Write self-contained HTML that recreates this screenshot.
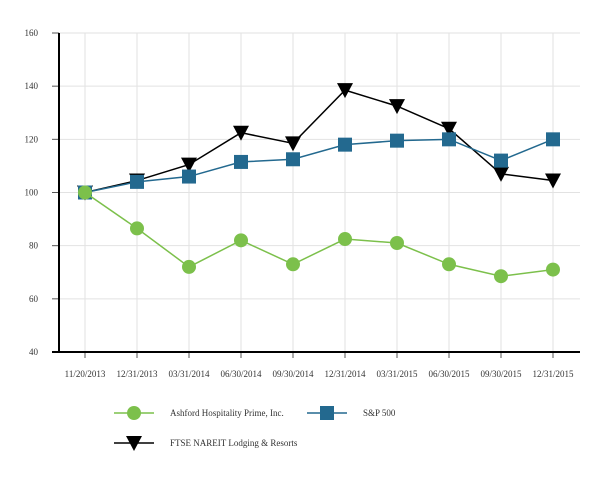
<!DOCTYPE html>
<html><head><meta charset="utf-8"><style>
body{margin:0;background:#fff;}
svg text{font-family:"Liberation Serif",serif;font-size:9px;fill:#333;}
</style></head><body>
<svg width="613" height="480" id="c"></svg>
<script>
const categories=["11/20/2013","12/31/2013","03/31/2014","06/30/2014","09/30/2014","12/31/2014","03/31/2015","06/30/2015","09/30/2015","12/31/2015"];
const ashford=[100,86.5,72,82,73,82.5,81,73,68.5,71];
const sp500=[100,104,106,111.5,112.5,118,119.5,120,112,120];
const ftse=[100,104.5,110.5,122.5,118.5,138.5,132.5,124,107,104.5];
const yTicks=[40,60,80,100,120,140,160];
const svg=document.getElementById('c');const NS='http://www.w3.org/2000/svg';
function el(t,a,p){const e=document.createElementNS(NS,t);for(const k in a)e.setAttribute(k,a[k]);(p||svg).appendChild(e);return e;}
const x=i=>85+i*52, y=v=>352-(v-40)*319/120;
yTicks.forEach(v=>{const g=el('line',{x1:59,x2:580,y1:y(v),y2:y(v),stroke:'#e2e2e2'});

el('line',{x1:52,x2:59,y1:y(v),y2:y(v),stroke:'#555'});
const t=el('text',{x:38,y:y(v)+3,'text-anchor':'end'});t.textContent=v;
});
categories.forEach((c,i)=>{const g=el('line',{x1:x(i),x2:x(i),y1:33,y2:352,stroke:'#e2e2e2'});

el('line',{x1:x(i),x2:x(i),y1:352,y2:358,stroke:'#555'});
const t=el('text',{x:x(i),y:377,'text-anchor':'middle'});t.textContent=c;
});
el('line',{x1:59,x2:59,y1:33,y2:352,stroke:'#000','stroke-width':2});
el('line',{x1:52,x2:580,y1:352,y2:352,stroke:'#000','stroke-width':2});
function marker(kind,cx,cy,col,g){
 if(kind==='c')return el('circle',{cx,cy,r:7,fill:col},g);
 if(kind==='s')return el('rect',{x:cx-7,y:cy-7,width:14,height:14,fill:col},g);
 return el('path',{d:`M${cx-8},${cy-7}L${cx+8},${cy-7}L${cx},${cy+8}Z`,fill:col},g);}
function series(name,vals,col,kind){const g=el('g',{});
 
 el('polyline',{points:vals.map((v,i)=>x(i)+','+y(v)).join(' '),fill:'none',stroke:col,'stroke-width':1.5},g);
 vals.forEach((v,i)=>{const m=marker(kind,x(i),y(v),col,g);});}
series('ftse-series',ftse,'#000','t');
series('sp500-series',sp500,'#23698f','s');
series('ashford-series',ashford,'#7cc04b','c');
function legend(name,lx,ly,col,kind,label){const g=el('g',{});
 
 el('line',{x1:lx,x2:lx+40,y1:ly,y2:ly,stroke:col,'stroke-width':1.5},g);marker(kind,lx+20,ly,col,g);
 const t=el('text',{x:lx+56,y:ly+3},g);t.textContent=label;}
legend('legend-ashford',114,413,'#7cc04b','c','Ashford Hospitality Prime, Inc.');
legend('legend-sp500',307,413,'#23698f','s','S&P 500');
legend('legend-ftse',114,443,'#000','t','FTSE NAREIT Lodging & Resorts');
</script></body></html>
